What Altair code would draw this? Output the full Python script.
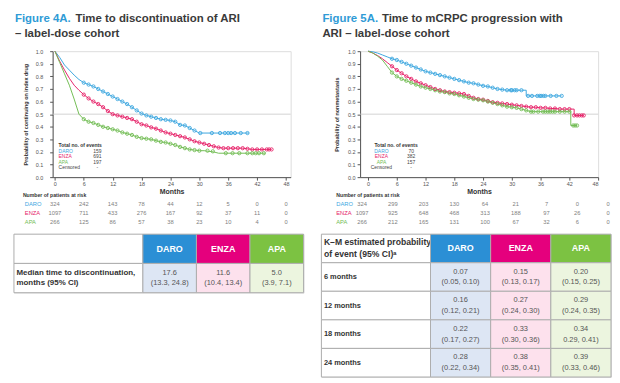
import altair as alt
import pandas as pd

FONT = "Liberation Sans"
ARMS = ["DARO", "ENZA", "APA"]
KM_COLORS = ["#3ea7df", "#e6246a", "#73bd55"]
HEAD_COLORS = ["#2b8fd5", "#e5007d", "#7cc242"]
BODY_COLORS = ["#dde6f4", "#fde1ed", "#ecf5df"]
STROKE = "#adadad"
MONTH_TICKS = [0, 6, 12, 18, 24, 30, 36, 42, 48]
Y_TICKS = [0.0, 0.1, 0.2, 0.3, 0.4, 0.5, 0.6, 0.7, 0.8, 0.9, 1.0]

# ---------------- Figure 4A: time to discontinuation ----------------
l_daro_m = list(range(0, 31)) + [40.3]
l_daro_p = [1.00, 0.95, 0.89, 0.85, 0.81, 0.775, 0.75, 0.735, 0.72, 0.70, 0.68, 0.66, 0.64, 0.62,
            0.60, 0.58, 0.555, 0.53, 0.505, 0.49, 0.48, 0.47, 0.46, 0.455, 0.45, 0.44, 0.415, 0.41,
            0.39, 0.37, 0.35, 0.35]
l_enza_m = list(range(0, 46))
l_enza_p = [1.00, 0.92, 0.85, 0.785, 0.73, 0.69, 0.655, 0.625, 0.60, 0.58, 0.555, 0.525, 0.50, 0.49,
            0.48, 0.47, 0.46, 0.44, 0.42, 0.41, 0.395, 0.385, 0.37, 0.355, 0.345, 0.335, 0.325,
            0.315, 0.30, 0.285, 0.275, 0.265, 0.255, 0.245, 0.235, 0.23, 0.23, 0.23, 0.23, 0.23,
            0.225, 0.22, 0.22, 0.22, 0.22, 0.22]
l_apa_m = list(range(0, 35)) + [43.7]
l_apa_p = [1.00, 0.91, 0.82, 0.73, 0.62, 0.50, 0.46, 0.44, 0.43, 0.415, 0.40, 0.39, 0.38, 0.37,
           0.355, 0.345, 0.335, 0.32, 0.31, 0.305, 0.30, 0.29, 0.28, 0.275, 0.265, 0.255, 0.24,
           0.23, 0.22, 0.215, 0.21, 0.21, 0.205, 0.20, 0.19, 0.19]
# censored marks on flat tails
l_daro_ct = [30.2, 32.6, 34.3, 35.3, 36.0, 36.6, 37.4, 38.6, 40.0]
l_daro_cp = [0.35, 0.35, 0.35, 0.35, 0.35, 0.35, 0.35, 0.35, 0.35]
l_enza_ct = [44.5, 45.0]
l_enza_cp = [0.22, 0.22]
l_apa_ct = [30.0, 31.7, 32.8, 35.5, 36.9, 38.3, 40.0, 41.0, 41.7, 42.4, 43.4]
l_apa_cp = [0.21, 0.21, 0.205, 0.19, 0.19, 0.19, 0.19, 0.19, 0.19, 0.19, 0.19]
l_dense = {"DARO": (6, 29), "ENZA": (6, 44), "APA": (6, 29)}
l_events = ["159", "691", "197", "-"]
l_risk = {"DARO": [324, 242, 143, 78, 44, 12, 5, 0, 0],
          "ENZA": [1097, 711, 433, 276, 167, 92, 37, 11, 0],
          "APA": [266, 125, 86, 57, 38, 23, 10, 4, 0]}

# ---------------- Figure 5A: time to mCRPC progression ----------------
r_daro_m = list(range(0, 34)) + [33, 40.4]
r_daro_p = [1.00, 0.995, 0.985, 0.97, 0.955, 0.94, 0.93, 0.915, 0.90, 0.885, 0.87, 0.855, 0.84,
            0.83, 0.82, 0.81, 0.80, 0.79, 0.78, 0.77, 0.76, 0.75, 0.745, 0.735, 0.725, 0.72, 0.71,
            0.70, 0.695, 0.69, 0.69, 0.69, 0.69, 0.69, 0.645, 0.645]
r_enza_m = list(range(0, 44)) + [43, 45]
r_enza_p = [1.00, 0.985, 0.965, 0.94, 0.91, 0.88, 0.85, 0.825, 0.80, 0.78, 0.76, 0.745, 0.73,
            0.715, 0.70, 0.69, 0.68, 0.675, 0.67, 0.665, 0.66, 0.645, 0.63, 0.62, 0.615, 0.605,
            0.595, 0.59, 0.585, 0.58, 0.575, 0.57, 0.565, 0.56, 0.555, 0.555, 0.55, 0.55, 0.545,
            0.545, 0.54, 0.54, 0.54, 0.54, 0.49, 0.49]
r_apa_m = list(range(0, 35)) + [42.3, 42.3, 43.6]
r_apa_p = [1.00, 0.985, 0.96, 0.93, 0.88, 0.83, 0.80, 0.78, 0.765, 0.75, 0.735, 0.72, 0.71, 0.70,
           0.69, 0.68, 0.675, 0.665, 0.66, 0.65, 0.64, 0.63, 0.62, 0.615, 0.61, 0.60, 0.59, 0.58,
           0.57, 0.56, 0.555, 0.55, 0.54, 0.53, 0.52, 0.52, 0.41, 0.41]
r_daro_ct = [29.8, 30.6, 33.4, 34.2, 35.3, 35.8, 36.1, 36.6, 37.0, 38.1, 39.3, 40.4]
r_daro_cp = [0.69, 0.69, 0.645, 0.645, 0.645, 0.645, 0.645, 0.645, 0.645, 0.645, 0.645, 0.645]
r_enza_ct = [43.6, 44.1, 44.6, 45.0]
r_enza_cp = [0.49, 0.49, 0.49, 0.49]
r_apa_ct = [34.5, 35.5, 36.5, 37.0, 37.5, 38.0, 38.5, 39.0, 40.0, 41.0, 42.0, 42.8, 43.2, 43.6]
r_apa_cp = [0.52, 0.52, 0.52, 0.52, 0.52, 0.52, 0.52, 0.52, 0.52, 0.52, 0.52, 0.41, 0.41, 0.41]
r_dense = {"DARO": (5, 32), "ENZA": (5, 43), "APA": (5, 34)}
r_events = ["70", "382", "157", "-"]
r_risk = {"DARO": [324, 299, 203, 130, 64, 21, 7, 0, 0],
          "ENZA": [1097, 925, 648, 468, 313, 188, 97, 26, 0],
          "APA": [266, 212, 165, 131, 100, 67, 32, 6, 0]}

# ---------------- tables ----------------
l_rows = ["head", "median"]
l_row_labels = {"head": ["", ""], "median": ["Median time to discontinuation,", "months (95% CI)"]}
l_vals = {"median": [("17.6", "(13.3, 24.8)"), ("11.6", "(10.4, 13.4)"), ("5.0", "(3.9, 7.1)")]}

r_rows = ["head", "6", "12", "18", "24"]
r_row_labels = {"head": ["K\u2013M estimated probability", "of event (95% CI)\u1d43"],
                "6": ["6 months", ""], "12": ["12 months", ""],
                "18": ["18 months", ""], "24": ["24 months", ""]}
r_vals = {"6": [("0.07", "(0.05, 0.10)"), ("0.15", "(0.13, 0.17)"), ("0.20", "(0.15, 0.25)")],
          "12": [("0.16", "(0.12, 0.21)"), ("0.27", "(0.24, 0.30)"), ("0.29", "(0.24, 0.35)")],
          "18": [("0.22", "(0.17, 0.27)"), ("0.33", "(0.30, 0.36)"), ("0.34", "0.29, 0.41)")],
          "24": [("0.28", "(0.22, 0.34)"), ("0.38", "(0.35, 0.41)"), ("0.39", "(0.33, 0.46)")]}

ARM_COLOR = alt.Color("arm:N", scale=alt.Scale(domain=ARMS, range=KM_COLORS), legend=None)


def text_at(s, x, y, size, color, weight="normal", align="left"):
    return alt.Chart(pd.DataFrame({"t": [s]})).mark_text(
        align=align, baseline="middle", fontSize=size, fontWeight=weight, color=color
    ).encode(x=alt.value(x), y=alt.value(y), text="t:N")


def km_chart(curves, tails, dense, xdom, ytitle, lab_pad, title_pad, fig, t1, t2,
             rest_x, events, leg, counts, rxdom, rxrange, lab_x, hdr_x):
    rows, crows = [], []
    for arm in ARMS:
        ms, ps = curves[arm]
        lo, hi = dense[arm]
        for i, (m, p) in enumerate(zip(ms, ps)):
            rows.append({"arm": arm, "month": m, "prob": p, "i": i})
            if lo <= m <= hi and (i + 1 >= len(ms) or ms[i + 1] != m):
                crows.append({"arm": arm, "month": m, "prob": p})
        for m, p in zip(*tails[arm]):
            crows.append({"arm": arm, "month": m, "prob": p})
    cdf = pd.DataFrame(rows)
    pdf = pd.DataFrame(crows)
    xs = alt.Scale(domain=xdom, nice=False, zero=False)
    ys = alt.Scale(domain=[0, 1], nice=False)
    xax = alt.Axis(values=MONTH_TICKS, title="Months", titleFontSize=7, titleFontWeight="bold",
                   titleColor="#333", labelFontSize=5.5, labelColor="#555", tickSize=3,
                   labelPadding=1.5, titlePadding=1, domainColor="#555", tickColor="#555",
                   grid=False)
    yax = alt.Axis(values=Y_TICKS, format=".1f", title=ytitle, titleFontSize=5.5,
                   titleFontWeight="bold", titleColor="#333", labelFontSize=5.5,
                   labelColor="#555", tickSize=3, labelPadding=lab_pad, titlePadding=title_pad,
                   domainColor="#555", tickColor="#555", grid=False)
    lines = alt.Chart(cdf).mark_line(strokeWidth=1).encode(
        x=alt.X("month:Q", scale=xs, axis=xax), y=alt.Y("prob:Q", scale=ys, axis=yax),
        color=ARM_COLOR, order="i:Q")
    ref = alt.Chart(pd.DataFrame({"v": [0.5]})).mark_rule(color="#c9c9c9", strokeWidth=0.8).encode(
        y=alt.Y("v:Q", scale=ys, axis=None))
    pts = alt.Chart(pdf).mark_point(shape="circle", filled=False, size=11, strokeWidth=0.9,
                                     opacity=1).encode(
        x=alt.X("month:Q", scale=xs, axis=None), y=alt.Y("prob:Q", scale=ys, axis=None),
        color=ARM_COLOR)
    layers = [ref, lines, pts,
              text_at(fig, -38, -32, 11.5, "#2f9bd6", "bold"),
              text_at(t1, rest_x, -32, 11.5, "#3a3a3a", "bold"),
              text_at(t2, -38, -17, 11.5, "#3a3a3a", "bold")]
    # legend block
    lx, lalign, vx, hx = leg
    layers.append(text_at("Total no. of events", hx, 95, 5, "#333", "bold"))
    names = ARMS + ["Censored"]
    cols = KM_COLORS + ["#444"]
    for k in range(4):
        y = 100.5 + 5.5 * k
        layers.append(text_at(names[k], lx, y, 5, cols[k], align=lalign))
        layers.append(text_at(events[k], vx, y, 5, "#444", align="center"))
    # number at risk rows, drawn below the plot through their own scales
    rrows = []
    for arm in ARMS:
        for m, n in zip(MONTH_TICKS, counts[arm]):
            rrows.append({"arm": arm, "month": m, "n": str(n)})
    rdf = pd.DataFrame(rrows)
    rys = alt.Scale(domain=["hdr"] + ARMS, range=[140.5, 176.5], paddingInner=0, paddingOuter=0)
    rxs = alt.Scale(domain=rxdom, range=rxrange, nice=False, zero=False)
    nums = alt.Chart(rdf).mark_text(fontSize=5.8, color="#808080").encode(
        x=alt.X("month:Q", scale=rxs, axis=None), y=alt.Y("arm:N", scale=rys, axis=None),
        text="n:N")
    labs = alt.Chart(pd.DataFrame({"arm": ARMS})).mark_text(align="left", fontSize=5.8).encode(
        x=alt.value(lab_x), y=alt.Y("arm:N", scale=rys, axis=None), text="arm:N", color=ARM_COLOR)
    hdr = alt.Chart(pd.DataFrame({"arm": ["hdr"], "t": ["Number of patients at risk"]})).mark_text(
        align="left", fontSize=5.2, fontWeight="bold", color="#333").encode(
        x=alt.value(hdr_x), y=alt.Y("arm:N", scale=rys, axis=None), text="t:N")
    layers += [nums, labs, hdr]
    return alt.layer(*layers).resolve_scale(x="independent", y="independent").properties(
        width=240, height=127)


def table_parts(rows, row_labels, vals, lab_w, val_w, height, head_size):
    ys = alt.Scale(domain=rows, paddingInner=0, paddingOuter=0)
    ldf = pd.DataFrame({"row": rows, "col": ["c"] * len(rows),
                        "l1": [row_labels[r][0] for r in rows],
                        "l2": [row_labels[r][1] for r in rows]})
    xl = alt.X("col:N", axis=None, scale=alt.Scale(paddingInner=0, paddingOuter=0), bandPosition=0)
    xr = alt.X("col:N", axis=None, scale=alt.Scale(paddingInner=0, paddingOuter=0))
    yr = alt.Y("row:N", axis=None, scale=ys)
    lrect = alt.Chart(ldf).mark_rect(fill="white", stroke=STROKE, strokeWidth=1).encode(x=xr, y=yr)
    llayers = [lrect]
    two = ldf[ldf["l2"] != ""]
    one = ldf[(ldf["l2"] == "") & (ldf["l1"] != "")]
    for r in two["row"]:
        sub = two[two["row"] == r]
        sz = head_size if r == "head" else 8
        dyv = 6 if r == "head" else 5.5
        llayers.append(alt.Chart(sub).mark_text(align="left", dx=2.5, dy=-dyv, fontSize=sz,
                                                fontWeight="bold", color="#333").encode(
            x=xl, y=yr, text="l1:N"))
        llayers.append(alt.Chart(sub).mark_text(align="left", dx=2.5, dy=dyv, fontSize=sz,
                                                fontWeight="bold", color="#333").encode(
            x=xl, y=yr, text="l2:N"))
    if len(one):
        llayers.append(alt.Chart(one).mark_text(align="left", dx=2.5, fontSize=7.5,
                                                fontWeight="bold", color="#333").encode(
            x=xl, y=yr, text="l1:N"))
    lab = alt.layer(*llayers).properties(width=lab_w, height=height)

    vrows = []
    for r in rows:
        for j, arm in enumerate(ARMS):
            if r == "head":
                vrows.append({"row": r, "arm": arm, "v1": arm, "v2": "", "key": arm + "|h"})
            else:
                vrows.append({"row": r, "arm": arm, "v1": vals[r][j][0], "v2": vals[r][j][1],
                              "key": arm + "|b"})
    vdf = pd.DataFrame(vrows)
    keys = [a + "|h" for a in ARMS] + [a + "|b" for a in ARMS]
    xa = alt.X("arm:N", axis=None, sort=ARMS,
               scale=alt.Scale(domain=ARMS, paddingInner=0, paddingOuter=0))
    vrect = alt.Chart(vdf).mark_rect(stroke=STROKE, strokeWidth=1).encode(
        x=xa, y=yr,
        fill=alt.Fill("key:N", scale=alt.Scale(domain=keys, range=HEAD_COLORS + BODY_COLORS),
                      legend=None))
    head = alt.Chart(vdf[vdf["row"] == "head"]).mark_text(
        fontSize=9, fontWeight="bold", color="white").encode(x=xa, y=yr, text="v1:N")
    body = vdf[vdf["row"] != "head"]
    b1 = alt.Chart(body).mark_text(fontSize=7.5, dy=-5.5, color="#555").encode(x=xa, y=yr, text="v1:N")
    b2 = alt.Chart(body).mark_text(fontSize=7.5, dy=5.5, color="#555").encode(x=xa, y=yr, text="v2:N")
    val = alt.layer(vrect, head, b1, b2).properties(width=val_w, height=height)
    return [lab, val]


def spacer(w, h):
    return alt.Chart(pd.DataFrame({"a": [0]})).mark_point(opacity=0).properties(width=w, height=h)


left_km = km_chart(
    {"DARO": (l_daro_m, l_daro_p), "ENZA": (l_enza_m, l_enza_p), "APA": (l_apa_m, l_apa_p)},
    {"DARO": (l_daro_ct, l_daro_cp), "ENZA": (l_enza_ct, l_enza_cp), "APA": (l_apa_ct, l_apa_cp)},
    l_dense, [-0.47, 48.97], "Probability of continuing on index drug", 7, 7,
    "Figure 4A.", "Time to discontinuation of ARI", "\u2013 label-dose cohort", 23, l_events,
    (6, "left", 45, 6), l_risk, [-0.47, 48.97], [0, 240], -28, -30)
right_km = km_chart(
    {"DARO": (r_daro_m, r_daro_p), "ENZA": (r_enza_m, r_enza_p), "APA": (r_apa_m, r_apa_p)},
    {"DARO": (r_daro_ct, r_daro_cp), "ENZA": (r_enza_ct, r_enza_cp), "APA": (r_apa_ct, r_apa_cp)},
    r_dense, [-1.66, 48.0], "Probability of nonmetastasis", 2, 8,
    "Figure 5A.", "Time to mCRPC progression with", "ARI \u2013 label-dose cohort", 22, r_events,
    (21.5, "center", 51.5, 14.5), r_risk, [-0.39, 48.39], [0, 252], -24, -24)

left_tab = table_parts(l_rows, l_row_labels, l_vals, 130, 162, 59, 8)
right_tab = table_parts(r_rows, r_row_labels, r_vals, 110, 182, 144, 8.7)

row_a = alt.hconcat(spacer(39, 127), left_km, spacer(70, 127), right_km,
                    spacing=0, bounds="flush")
row_c = alt.hconcat(left_tab[0], left_tab[1], spacer(18, 59), right_tab[0], right_tab[1],
                    spacing=0, bounds="flush")

chart = alt.vconcat(row_a, row_c, spacing=7.5).properties(
    padding={"left": 5, "top": 3, "right": 0, "bottom": 0}
).configure_view(stroke=None).configure(font=FONT, background="white")

chart.save("out.html", embed_options={"renderer": "svg", "actions": False})
